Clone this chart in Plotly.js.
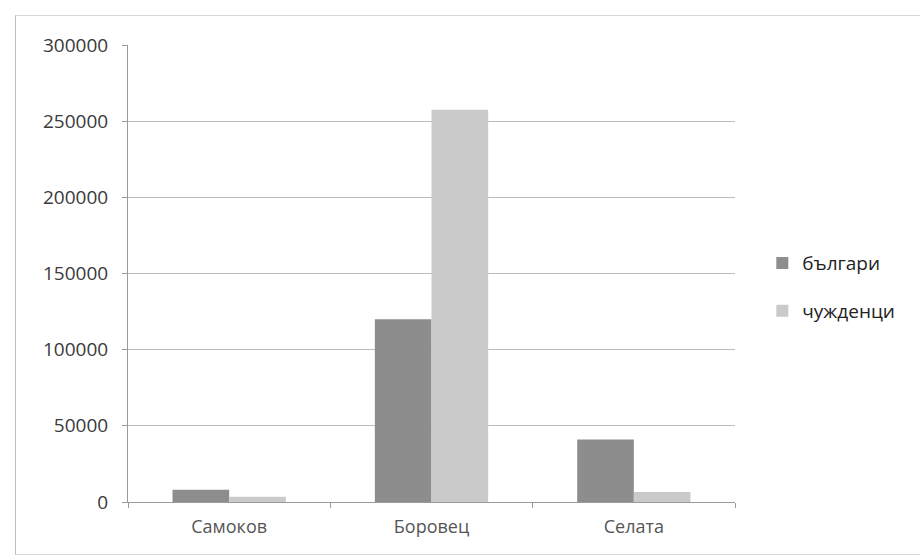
<!DOCTYPE html>
<html><head><meta charset="utf-8">
<script src="https://cdn.plot.ly/plotly-3.0.1.min.js"></script>
<style>
html,body{margin:0;padding:0;background:#fff;}
#frame{position:absolute;left:15px;top:15px;width:920px;height:538px;border-left:1px solid #bdbdbd;border-top:1px solid #d6d6d6;border-bottom:1px solid #d6d6d6;}
#chart{position:absolute;left:0;top:0;width:920px;height:560px;}
</style></head>
<body>
<div id="frame"></div>
<div id="chart"></div>
<script>
const categories = ["Самоков", "Боровец", "Селата"];
const seriesNames = ["българи", "чужденци"];
const bulgarians = [8000, 120000, 41000];
const foreigners = [3500, 257500, 6500];
const yTicks = [0, 50000, 100000, 150000, 200000, 250000, 300000];

const font = "Open Sans, Noto Sans, sans-serif";
const traces = [
  {type:"bar", name:seriesNames[0], x:categories, y:bulgarians, marker:{color:"#8d8d8d"}, legendgroup:"a"},
  {type:"bar", name:seriesNames[1], x:categories, y:foreigners, marker:{color:"#cacaca"}, legendgroup:"b"}
];
const layout = {
  width:920, height:560,
  margin:{l:128, r:185, t:45, b:58},
  paper_bgcolor:"rgba(0,0,0,0)", plot_bgcolor:"rgba(0,0,0,0)",
  barmode:"group", bargap:0.44, bargroupgap:0,
  font:{family:font, size:19, color:"#444"},
  xaxis:{type:"category", showline:true, linecolor:"#9a9a9a", ticks:"outside", tickson:"boundaries", ticklen:5, tickcolor:"#9a9a9a", tickfont:{size:18, color:"#555"}, ticklabelstandoff:8, showgrid:false},
  yaxis:{range:[0,300000], tickvals:yTicks, ticktext:yTicks.map(String), showline:true, linecolor:"#9a9a9a", ticks:"outside", ticklen:5, tickcolor:"#9a9a9a", gridcolor:"#bdbdbd", tickfont:{size:19, color:"#3a3a3a"}, ticklabelstandoff:10, zeroline:false},
  legend:{x:1.045, y:0.47, xanchor:"left", yanchor:"middle", font:{size:19, color:"#222"}, tracegroupgap:20, itemwidth:30},
  showlegend:true
};
Plotly.newPlot("chart", traces, layout, {displayModeBar:false, staticPlot:true});
</script>
</body></html>
